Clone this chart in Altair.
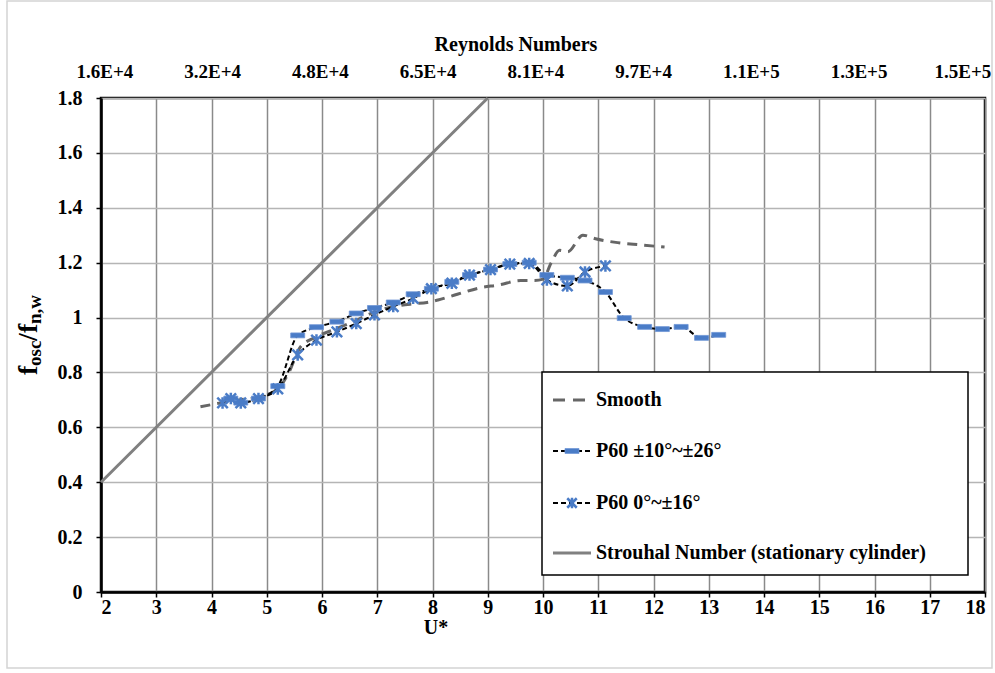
import altair as alt
import pandas as pd

# ---------------- data ----------------
smooth_u = [3.8, 4.2, 4.5, 4.85, 5.2, 5.4, 5.6, 5.9, 6.27, 6.62, 6.95, 7.3, 7.65, 7.9,
            8.1, 8.45, 8.85, 9.2, 9.6, 9.85, 10.0, 10.15, 10.3, 10.45, 10.72, 10.95,
            11.35, 11.75, 12.2]
smooth_f = [0.675, 0.69, 0.70, 0.71, 0.74, 0.80, 0.89, 0.93, 0.96, 0.99, 1.02, 1.04,
            1.05, 1.055, 1.064, 1.085, 1.108, 1.119, 1.135, 1.135, 1.14, 1.20, 1.245,
            1.24, 1.30, 1.287, 1.273, 1.265, 1.257]

p60a_u = [4.35, 4.53, 4.85, 5.2, 5.56, 5.9, 6.27, 6.62, 6.95, 7.29, 7.65, 7.98, 8.35,
          8.67, 9.05, 9.4, 9.75, 10.07, 10.44, 10.76, 11.13, 11.47, 11.84, 12.16,
          12.5, 12.87, 13.18]
p60a_f = [0.705, 0.69, 0.705, 0.75, 0.935, 0.965, 0.985, 1.015, 1.035, 1.055, 1.085,
          1.105, 1.13, 1.155, 1.175, 1.195, 1.20, 1.155, 1.145, 1.135, 1.093, 0.998,
          0.966, 0.958, 0.966, 0.926, 0.937]

p60b_u = [4.2, 4.35, 4.53, 4.85, 5.2, 5.56, 5.9, 6.27, 6.62, 6.95, 7.29, 7.65, 7.98,
          8.35, 8.67, 9.05, 9.4, 9.75, 10.07, 10.44, 10.76, 11.13]
p60b_f = [0.689, 0.705, 0.689, 0.705, 0.74, 0.864, 0.918, 0.948, 0.978, 1.01, 1.04,
          1.07, 1.105, 1.125, 1.155, 1.175, 1.195, 1.197, 1.137, 1.115, 1.166, 1.188]

strouhal_u = [2, 9]
strouhal_f = [0.4, 1.8]

x_ticks = list(range(2, 19))
y_ticks = [0, 0.2, 0.4, 0.6, 0.8, 1.0, 1.2, 1.4, 1.6, 1.8]
# secondary (top) axis: label positions on the U* scale and their texts
re_pos = [2.07, 4.02, 5.97, 7.92, 9.87, 11.82, 13.77, 15.72, 17.6]
re_labels = ["1.6E+4", "3.2E+4", "4.8E+4", "6.5E+4", "8.1E+4", "9.7E+4",
             "1.1E+5", "1.3E+5", "1.5E+5"]

legend_labels = ["Smooth", "P60 \u00b110\u00b0~\u00b126\u00b0", "P60 0\u00b0~\u00b116\u00b0",
                 "Strouhal Number (stationary cylinder)"]

# ---------------- styles ----------------
FONT = "Liberation Serif"
BLUE = "#4a7cc7"
GRAY_S = "#808080"
GRAY_SM = "#666666"
DASH_PATH = "M-1,-0.35L1,-0.35L1,0.35L-1,0.35Z"
STAR_PATH = "M-1,-1L1,1M-1,1L1,-1M0,-1.1L0,1.1"

xs = alt.Scale(domain=[2, 18], nice=False, zero=False)
ys = alt.Scale(domain=[0, 1.8], nice=False, zero=True)

x_axis = alt.Axis(values=x_ticks, format="d", title=None, labelFont=FONT,
                  labelFontSize=20, labelFontWeight="bold", labelColor="black",
                  tickColor="black", tickSize=5, tickWidth=1.5, domainColor="black",
                  domainWidth=2.5, gridColor="#8a8a8a", gridWidth=1.5, labelPadding=0)
y_axis = alt.Axis(values=y_ticks, format="~g", title=None, labelFont=FONT,
                  labelFontSize=20, labelFontWeight="bold", labelColor="black",
                  tickColor="black", tickSize=5, tickWidth=1.5, domainColor="black",
                  domainWidth=2.5, gridColor="#b5b5b5", gridWidth=1.5, labelPadding=14)


def xq():
    return alt.X("u:Q", scale=xs, axis=x_axis)


def yq():
    return alt.Y("f:Q", scale=ys, axis=y_axis)


df_st = pd.DataFrame({"u": strouhal_u, "f": strouhal_f})
df_sm = pd.DataFrame({"u": smooth_u, "f": smooth_f})
df_a = pd.DataFrame({"u": p60a_u, "f": p60a_f})
df_b = pd.DataFrame({"u": p60b_u, "f": p60b_f})
df_re = pd.DataFrame({"u": re_pos, "lab": re_labels})
one = pd.DataFrame({"k": [0]})

strouhal = alt.Chart(df_st).mark_line(color=GRAY_S, strokeWidth=3).encode(x=xq(), y=yq())
smooth = alt.Chart(df_sm).mark_line(color=GRAY_SM, strokeWidth=3, strokeDash=[10, 7],
                                    interpolate="monotone").encode(x=xq(), y=yq())
line_a = alt.Chart(df_a).mark_line(color="black", strokeWidth=2, strokeDash=[5, 3],
                                   interpolate="monotone").encode(x=xq(), y=yq())
line_b = alt.Chart(df_b).mark_line(color="black", strokeWidth=2, strokeDash=[5, 3],
                                   interpolate="monotone").encode(x=xq(), y=yq())
pts_a = alt.Chart(df_a).mark_point(shape=DASH_PATH, filled=True, fill=BLUE, stroke="#6f96d6",
                                   strokeWidth=0.8, size=196, opacity=1).encode(x=xq(), y=yq())
pts_b = alt.Chart(df_b).mark_point(shape=STAR_PATH, filled=False, stroke=BLUE,
                                   strokeWidth=2.5, size=110, opacity=1).encode(x=xq(), y=yq())

# top Reynolds axis labels
re_text = alt.Chart(df_re).mark_text(font=FONT, fontSize=19, fontWeight="bold",
                                     color="black", baseline="middle").encode(
    x=xq(), y=alt.value(-26), text="lab:N")


def txt(s, x, y, size=20, align="center", angle=0, baseline="middle"):
    props = dict(font=FONT, fontSize=size, fontWeight="bold", color="black",
                 align=align, baseline=baseline)
    if angle:
        props["angle"] = angle
    return alt.Chart(one).mark_text(**props).encode(
        x=alt.value(x), y=alt.value(y), text=alt.value(s))


titles = [
    txt("Reynolds Numbers", 415, -53),
    txt("U*", 335, 530),
    # y title f_osc / f_n,w (rotated)
    txt("f", -64, 277, size=28, align="left", angle=270, baseline="alphabetic"),
    txt("osc", -60, 268, size=19, align="left", angle=270, baseline="alphabetic"),
    txt("/", -64, 243, size=28, align="left", angle=270, baseline="alphabetic"),
    txt("f", -64, 235, size=28, align="left", angle=270, baseline="alphabetic"),
    txt("n,w", -60, 226, size=19, align="left", angle=270, baseline="alphabetic"),
]

# outer frame
frame = alt.Chart(one).mark_rect(fillOpacity=0, stroke="#d4d4d4", strokeWidth=1.5).encode(
    x=alt.value(-94), x2=alt.value(891), y=alt.value(-97), y2=alt.value(570))

# legend
leg_box = alt.Chart(one).mark_rect(fill="white", stroke="black", strokeWidth=1.5).encode(
    x=alt.value(441), x2=alt.value(867), y=alt.value(274), y2=alt.value(477))
leg_y = [302, 353, 405, 455]
lx0, lx1, ltx = 452, 490, 495
leg = [
    alt.Chart(one).mark_rule(color=GRAY_SM, strokeWidth=3, strokeDash=[12, 8]).encode(
        x=alt.value(lx0), x2=alt.value(lx1), y=alt.value(leg_y[0])),
    alt.Chart(one).mark_rule(color="black", strokeWidth=2, strokeDash=[5, 3]).encode(
        x=alt.value(lx0), x2=alt.value(lx1), y=alt.value(leg_y[1])),
    alt.Chart(one).mark_point(shape=DASH_PATH, filled=True, fill=BLUE, stroke="#6f96d6",
                              strokeWidth=0.8, size=196, opacity=1).encode(
        x=alt.value((lx0 + lx1) / 2), y=alt.value(leg_y[1])),
    alt.Chart(one).mark_rule(color="black", strokeWidth=2, strokeDash=[5, 3]).encode(
        x=alt.value(lx0), x2=alt.value(lx1), y=alt.value(leg_y[2])),
    alt.Chart(one).mark_point(shape=STAR_PATH, filled=False, stroke=BLUE,
                              strokeWidth=2.5, size=90, opacity=1).encode(
        x=alt.value((lx0 + lx1) / 2), y=alt.value(leg_y[2])),
    alt.Chart(one).mark_rule(color=GRAY_S, strokeWidth=3).encode(
        x=alt.value(lx0), x2=alt.value(lx1), y=alt.value(leg_y[3])),
]
for lab, yy in zip(legend_labels, leg_y):
    leg.append(txt(lab, ltx, yy, size=20, align="left"))

chart = alt.layer(
    frame, strouhal, smooth, line_a, line_b, pts_a, pts_b, re_text, *titles, leg_box, *leg
).properties(
    width=884, height=494,
    background="white",
    autosize=alt.AutoSizeParams(type="none"),
    padding={"left": 101, "top": 98, "right": 10, "bottom": 81},
).configure_view(stroke="black", strokeWidth=2.5)

chart.save("out.html", embed_options={"renderer": "svg", "actions": False})
